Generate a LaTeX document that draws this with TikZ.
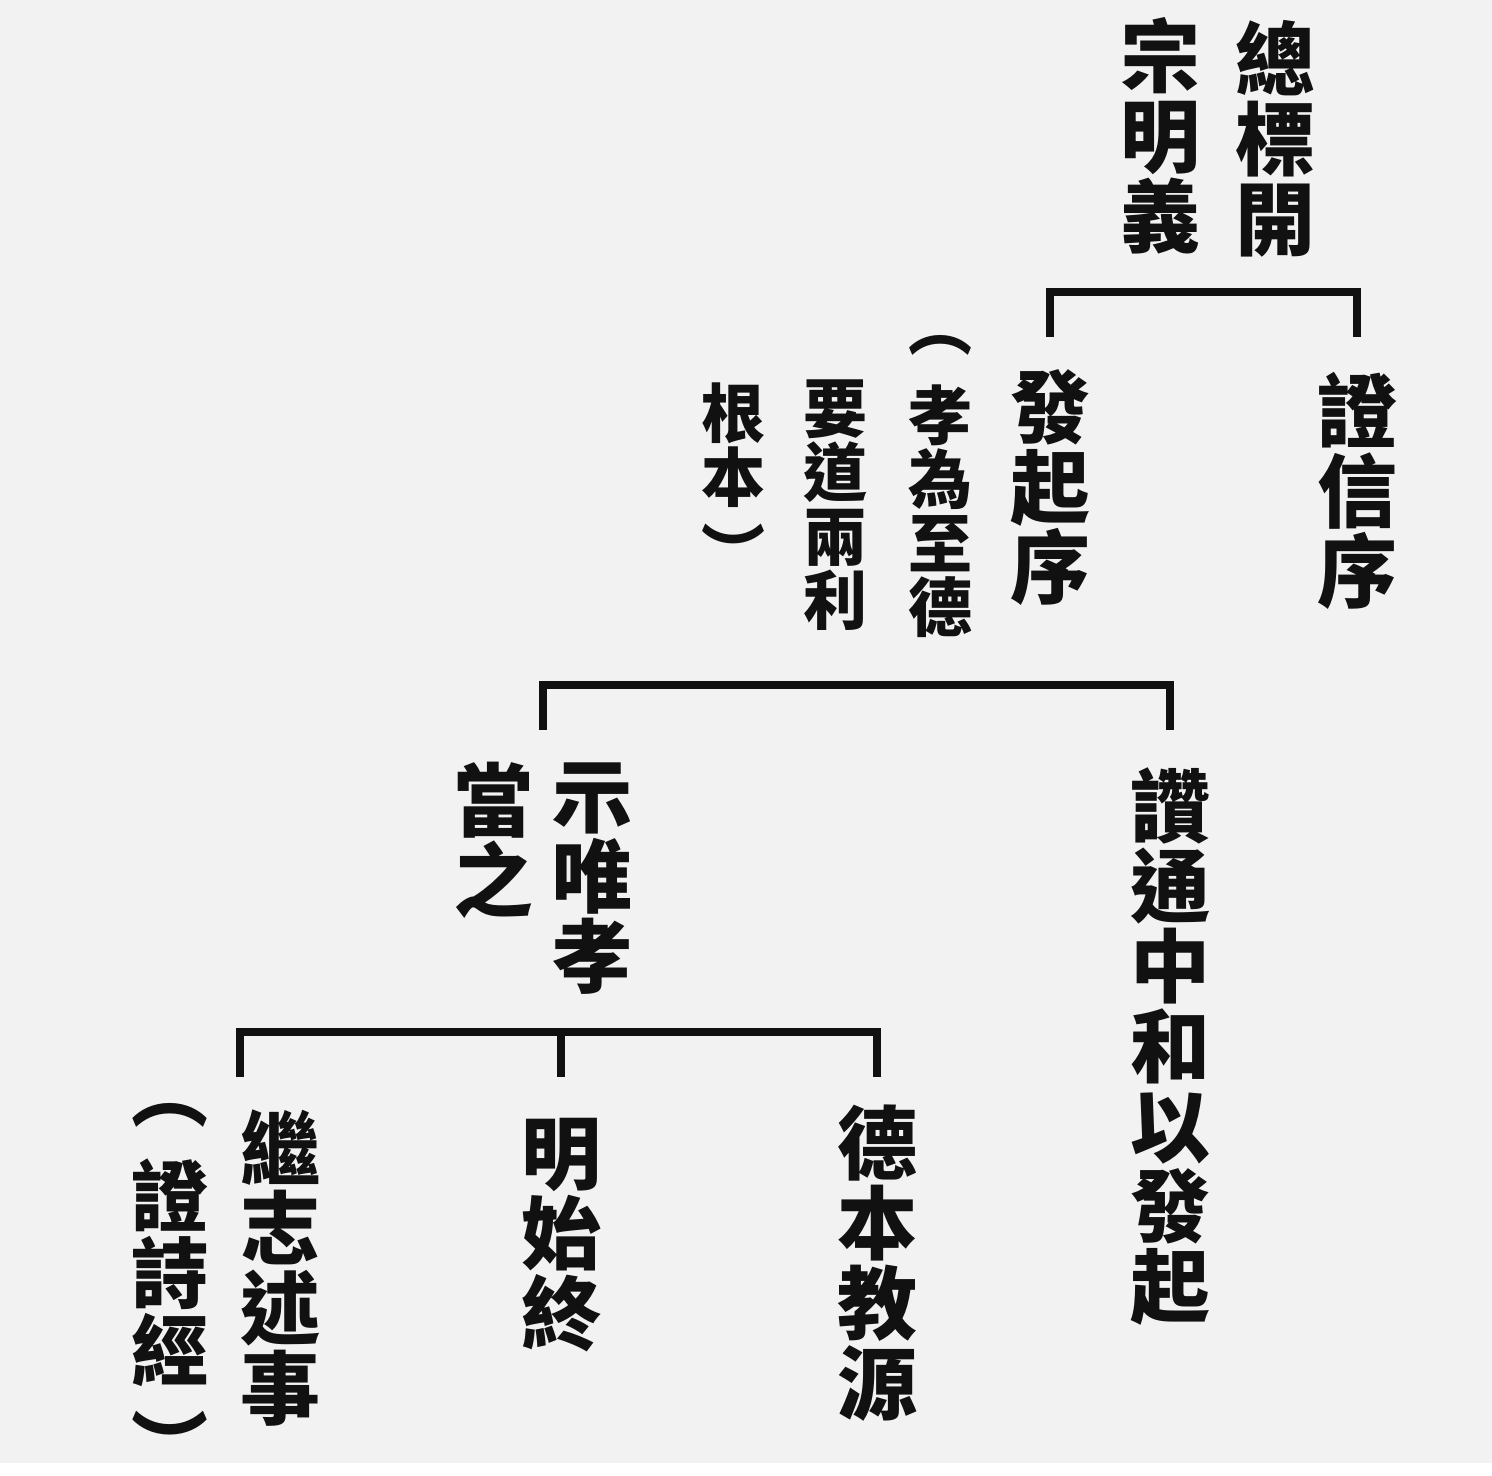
\documentclass[tikz,border=0pt]{standalone}
\usepackage{fontspec}
\newfontfamily\cjk{Noto Sans CJK TC}
\usepackage{tikz}
\usetikzlibrary{calc}
\definecolor{paper}{HTML}{F2F2F2}
\definecolor{ink}{HTML}{111111}
\setlength{\lineskiplimit}{-100pt}

\begin{document}
\begin{tikzpicture}[x=0.5pt, y=-0.5pt,
    every node/.style={inner sep=0pt, outer sep=0pt, text=ink, align=center, anchor=north},
    big/.style={font=\cjk\bfseries\fontsize{40}{40}\selectfont},
    note/.style={font=\cjk\bfseries\fontsize{32}{32}\selectfont},
    notel/.style={font=\cjk\bfseries\fontsize{38.5}{38.5}\selectfont},
    bar/.style={draw=ink, line width=4pt, line join=miter}]
    % Page
    \fill[paper] (0,0) rectangle (1492,1463);

    % Top heading
    \node[big] (zong) at (1275,20) {總\\標\\開};
    \node[big] (zongb) at (1160,17) {宗\\明\\義};

    % Second row
    \node[big] (zx) at (1357,372) {證\\信\\序};
    \node[big] (fq) at (1050,370) {發\\起\\序};
    \node[note] (fqa) at (940,335) {︵\\[12.5pt]孝\\為\\至\\德};
    \node[note] (fqb) at (835,380) {要\\道\\兩\\利};
    \node[note] (fqc) at (733,383) {根\\本\\[6pt]︶};

    % Third row
    \node[big] (zt) at (1170,768) {讚\\通\\中\\和\\以\\發\\起};
    \node[big] (sw) at (592,763) {示\\唯\\孝};
    \node[big] (sb) at (493,762) {當\\之};

    % Fourth row
    \node[big] (jz) at (280,1110) {繼\\志\\述\\事};
    \node[notel] (jza) at (170,1103) {︵\\[13.5pt]證\\詩\\經\\[9.5pt]︶};
    \node[big] (ms) at (561,1118) {明\\始\\終};
    \node[big] (db) at (877,1105) {德\\本\\教\\源};

    % Brackets
    \coordinate (r1) at (0,337);
    \coordinate (k1) at (1205,292);
    \draw[bar] (fq.north |- r1) |- (k1) -| (zx.north |- r1);

    \coordinate (r2) at (0,730);
    \coordinate (k2) at (860,685);
    \coordinate (swb) at ($(sw.north)!.5!(sb.north)$);
    \draw[bar] (swb |- r2) |- (k2) -| (zt.north |- r2);

    \coordinate (r3) at (0,1077);
    \coordinate (k3) at (561,1032);
    \draw[bar] (jz.north west |- r3) |- (k3) -| (db.north |- r3);
    \draw[bar] (k3) -- (ms.north |- r3);
\end{tikzpicture}
\end{document}
